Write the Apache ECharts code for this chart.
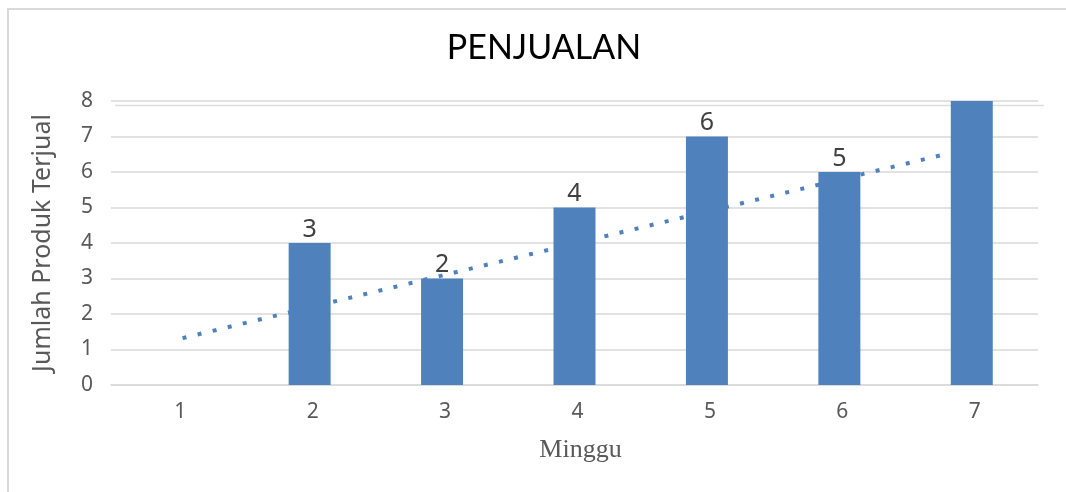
<!DOCTYPE html>
<html>
<head>
<meta charset="utf-8">
<style>
  html, body { margin: 0; padding: 0; background: #fff; }
  #chart { width: 1066px; height: 492px; }
</style>
<script src="https://cdn.jsdelivr.net/npm/echarts@6/dist/echarts.min.js"></script>
</head>
<body>
<div id="chart"></div>
<script>
// data
var weeks = ['1', '2', '3', '4', '5', '6', '7'];
var sales = [0, 4, 3, 5, 7, 6, 8];
// the printed labels above the bars (not equal to the bar heights in the original)
var barLabels = [null, 3, 2, 4, 6, 5, null];
// linear trendline, start and end points [week, value]
var trendStart = [1.04, 1.32];
var trendEnd = [6.82, 6.52];
var yTicks = [0, 1, 2, 3, 4, 5, 6, 7, 8];

var barColor = '#4f81bd';
var gridColor = '#d9d9d9';
var textColor = '#595959';

var chart = echarts.init(document.getElementById('chart'), null, { renderer: 'canvas' });

chart.setOption({
  animation: false,
  backgroundColor: '#fff',
  title: {
    text: 'PENJUALAN',
    left: 539,
    top: 26,
    textAlign: 'center',
    textStyle: { fontFamily: 'Lato', fontSize: 34, fontWeight: 'normal', color: '#000' }
  },
  graphic: [
    {
      type: 'rect',
      shape: { x: 8, y: 9, width: 1100, height: 600 },
      style: { fill: 'none', stroke: '#d9d9d9', lineWidth: 2 },
      z: -1
    },
    {
      type: 'line',
      shape: { x1: 115, y1: 105.5, x2: 1044, y2: 105.5 },
      style: { stroke: '#dedede', lineWidth: 1.5 },
      z: -1
    }
  ],
  grid: { left: 111, right: 28, top: 101, bottom: 107 },
  xAxis: [
    {
      type: 'category',
      data: weeks,
      name: 'Minggu',
      nameLocation: 'middle',
      nameGap: 52,
      nameTextStyle: { fontFamily: 'Liberation Serif', fontSize: 26, color: textColor, padding: [0, 0, 0, 12] },
      axisLine: { lineStyle: { color: gridColor, width: 1.5 } },
      axisTick: { show: false },
      axisLabel: { fontFamily: 'Noto Sans', fontSize: 21, color: textColor, margin: 17, padding: [0, 0, 0, 6] }
    },
    {
      type: 'value',
      show: false,
      min: 0.5,
      max: 7.5
    }
  ],
  yAxis: {
    type: 'value',
    min: yTicks[0],
    max: yTicks[yTicks.length - 1],
    interval: 1,
    name: 'Jumlah Produk Terjual',
    nameLocation: 'middle',
    nameGap: 56,
    nameTextStyle: { fontFamily: 'Noto Sans', fontSize: 25, color: textColor },
    axisLine: { show: false },
    axisTick: { show: false },
    axisLabel: { fontFamily: 'Noto Sans', fontSize: 21, color: textColor, margin: 18 },
    splitLine: { lineStyle: { color: gridColor, width: 1.5 } }
  },
  series: [
    {
      type: 'line',
      xAxisIndex: 1,
      data: [trendStart, trendEnd],
      symbol: 'none',
      lineStyle: { color: barColor, width: 4, type: [4, 11.5], cap: 'butt' },
      z: 1,
      silent: true
    },
    {
      type: 'bar',
      data: sales,
      barWidth: '31.7%',
      itemStyle: { color: barColor },
      label: {
        show: true,
        position: 'top',
        distance: 1,
        fontFamily: 'Noto Sans',
        fontSize: 25,
        color: '#404040',
        formatter: function (p) {
          var v = barLabels[p.dataIndex];
          return v == null ? '' : String(v);
        }
      },
      z: 2
    }
  ]
});
</script>
</body>
</html>
